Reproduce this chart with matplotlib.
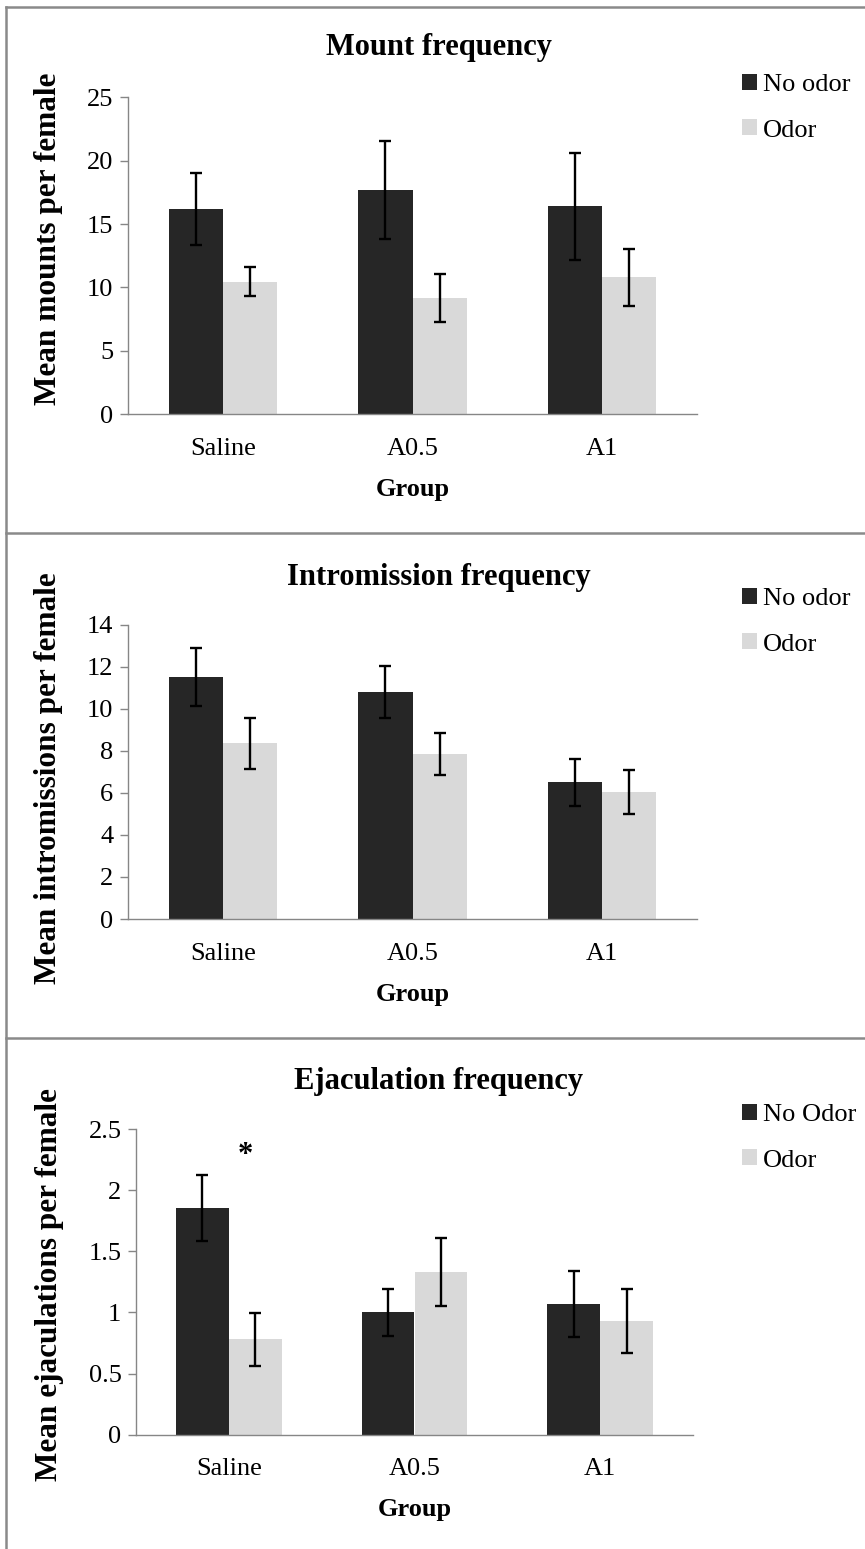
import numpy as np
import matplotlib.pyplot as plt
from matplotlib.lines import Line2D
from matplotlib.ticker import FormatStrFormatter

plt.rcParams['font.family'] = ['Liberation Serif', 'DejaVu Serif']

groups = ['Saline', 'A0.5', 'A1']

# mount frequency (mean, sem)
mount_noodor = [16.2, 17.7, 16.4]
mount_noodor_err = [2.85, 3.85, 4.2]
mount_odor = [10.45, 9.2, 10.8]
mount_odor_err = [1.15, 1.9, 2.25]

# intromission frequency
intro_noodor = [11.5, 10.8, 6.5]
intro_noodor_err = [1.37, 1.23, 1.12]
intro_odor = [8.35, 7.85, 6.05]
intro_odor_err = [1.23, 0.98, 1.05]

# ejaculation frequency
ejac_noodor = [1.85, 1.0, 1.07]
ejac_noodor_err = [0.27, 0.195, 0.27]
ejac_odor = [0.78, 1.33, 0.93]
ejac_odor_err = [0.215, 0.275, 0.26]

W, H = 865, 1549
fig = plt.figure(figsize=(W / 100, H / 100), dpi=100)

dark = '#262626'
light = '#d9d9d9'
axcol = '#868686'
boxcol = '#8a8a8a'

# panel frames
fig.add_artist(Line2D([6 / W, 1], [1 - 7 / H] * 2, color=boxcol, lw=1.8))
fig.add_artist(Line2D([6 / W, 6 / W], [1 - 7 / H, 0], color=boxcol, lw=1.8))
for yy in [533, 1038]:
    fig.add_artist(Line2D([6 / W, 1], [1 - yy / H] * 2, color=boxcol, lw=1.8))


def panel(rect, noodor, noodor_err, odor, odor_err, ymax, step, ylabel,
          ylab_pos, title, title_y, labels, legend_y):
    ax = fig.add_axes(rect)
    x = np.arange(len(groups))
    w = 0.285
    ekw = dict(ecolor='black', elinewidth=1.7, capsize=4.5, capthick=1.7)
    b1 = ax.bar(x - w / 2, noodor, w, color=dark, yerr=noodor_err,
                error_kw=ekw, label=labels[0])
    b2 = ax.bar(x + w / 2, odor, w, color=light, yerr=odor_err,
                error_kw=ekw, label=labels[1])
    ax.set_xlim(-0.5, 2.5)
    ax.set_ylim(0, ymax)
    ax.set_yticks(np.arange(0, ymax + step / 2, step))
    ax.yaxis.set_major_formatter(FormatStrFormatter('%g'))
    ax.set_xticks(x, groups)
    for s in ['top', 'right']:
        ax.spines[s].set_visible(False)
    for s in ['left', 'bottom']:
        ax.spines[s].set_color(axcol)
        ax.spines[s].set_linewidth(1.0)
    ax.tick_params(axis='y', length=5.5, width=1, color=axcol, pad=5,
                   labelsize=19)
    ax.tick_params(axis='x', length=0, pad=17, labelsize=19)
    ax.set_xlabel('Group', fontweight='bold', fontsize=19, labelpad=13)
    ax.set_ylabel(ylabel, fontweight='bold', fontsize=22.5)
    ax.yaxis.set_label_coords(*ylab_pos)
    fig.text(0.5075, 1 - title_y / H, title, ha='center', va='center',
             fontsize=22, fontweight='bold')
    fig.legend(handles=[b1, b2], loc='upper left',
               bbox_to_anchor=(742 / W, 1 - (legend_y - 14) / H),
               frameon=False, fontsize=19, handlelength=0.55,
               handleheight=0.55, handletextpad=0.25, labelspacing=0.87,
               borderpad=0, borderaxespad=0)
    return ax


panel([128 / W, 1 - 414.3 / H, 569 / W, 317 / H],
      mount_noodor, mount_noodor_err, mount_odor, mount_odor_err,
      25, 5, 'Mean mounts per female', (-0.114, 0.555), 'Mount frequency', 47,
      ['No odor', 'Odor'], 88)

panel([128 / W, 1 - 919 / H, 569 / W, 294.3 / H],
      intro_noodor, intro_noodor_err, intro_odor, intro_odor_err,
      14, 2, 'Mean intromissions per female', (-0.114, 0.48),
      'Intromission frequency', 577, ['No odor', 'Odor'], 602)

ax3 = panel([136 / W, 1 - 1434.7 / H, 557 / W, 305.7 / H],
            ejac_noodor, ejac_noodor_err, ejac_odor, ejac_odor_err,
            2.5, 0.5, 'Mean ejaculations per female', (-0.13, 0.49),
            'Ejaculation frequency', 1082, ['No Odor', 'Odor'], 1118)

# significance mark over the saline pair
ax3.text(0.088, 2.28, '*', ha='center', va='center', fontsize=22,
         fontweight='bold')

fig.savefig('out.png', dpi=100)
